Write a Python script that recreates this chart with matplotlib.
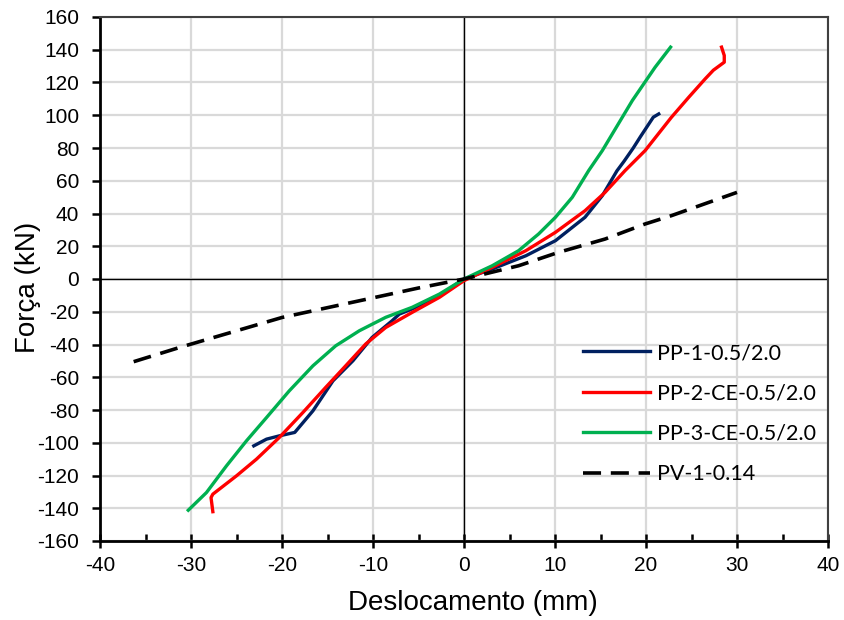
import matplotlib
matplotlib.use("Agg")
import matplotlib.pyplot as plt
from matplotlib.ticker import MultipleLocator

plt.rcParams["axes.unicode_minus"] = False

# ---- data ----
pp1_x = [-23.1, -21.7, -20.3, -18.6, -16.6, -14.4, -12.2, -10.1, -7.9, -7.1, -5.7, -2.7, 0.0,
         3.1, 6.8, 10.05, 13.3, 15.2, 16.8, 17.6, 18.6, 19.4, 20.8, 21.4]
pp1_y = [-101.9, -97.8, -95.8, -93.7, -80.5, -62.2, -49.9, -35.7, -25.5, -21.4, -18.3, -10.2, 0.0,
         6.1, 14.2, 23.4, 37.7, 50.9, 66.0, 72.0, 80.0, 87.0, 98.8, 100.8]

pp2_x = [-27.6, -27.8, -27.6, -25.0, -22.8, -20.3, -17.7, -15.2, -13.0, -10.8, -8.6, -5.7, -2.7, 0.0,
         3.1, 6.8, 10.05, 13.3, 15.5, 17.7, 19.9, 22.8, 24.7, 26.5, 27.4, 28.6, 28.6, 28.3]
pp2_y = [-142.1, -133.5, -131.4, -120.2, -110.0, -96.8, -81.5, -66.2, -53.0, -39.7, -29.6, -20.4, -11.2, -1.0,
         7.1, 17.3, 28.5, 41.7, 52.9, 66.2, 78.4, 98.8, 111.0, 122.2, 127.5, 132.4, 136.5, 141.6]

pp3_x = [-30.3, -28.3, -26.1, -23.9, -21.7, -19.2, -16.6, -14.1, -11.5, -8.6, -5.7, -2.7, 0.0,
         3.1, 6.0, 8.2, 10.05, 11.9, 13.7, 15.2, 17.4, 18.5, 21.0, 22.7]
pp3_y = [-141.2, -130.4, -114.1, -98.8, -84.6, -68.3, -53.0, -40.8, -31.6, -23.4, -17.3, -9.2, 0.0,
         8.1, 17.3, 27.5, 37.7, 49.9, 66.2, 78.4, 98.8, 109.0, 129.3, 141.6]

pv1_x = [-36.3, -31.25, -20.0, -10.0, -5.0, 0.0, 6.0, 10.4, 15.5, 19.9, 22.8, 26.9, 30.0]
pv1_y = [-50.5, -41.8, -23.5, -11.5, -5.5, 0.0, 8.1, 16.3, 24.4, 33.6, 38.7, 46.8, 52.9]

labels = ["PP-1-0.5/2.0", "PP-2-CE-0.5/2.0", "PP-3-CE-0.5/2.0", "PV-1-0.14"]
x_ticks = list(range(-40, 41, 10))
y_ticks = list(range(-160, 161, 20))

main_font = "Liberation Sans"
legend_font = "Lato"

fig = plt.figure(figsize=(8.44, 6.2), dpi=100)
ax = fig.add_axes([100 / 844, 1 - 541 / 620, 728 / 844, 524 / 620])

ax.set_xlim(-40, 40)
ax.set_ylim(-160, 160)
ax.set_xticks(x_ticks)
ax.set_yticks(y_ticks)
ax.xaxis.set_minor_locator(MultipleLocator(5))

ax.grid(True, which="major", color="#d9d9d9", linewidth=1.6, zorder=0)
ax.set_axisbelow(True)

ax.axhline(0, color="black", linewidth=1.0, zorder=1)
ax.axvline(0, color="black", linewidth=1.0, zorder=1)

ax.plot(pp1_x, pp1_y, color="#002060", linewidth=2.4, label=labels[0], zorder=3)
ax.plot(pp2_x, pp2_y, color="#ff0000", linewidth=2.4, label=labels[1], zorder=3)
ax.plot(pp3_x, pp3_y, color="#00b050", linewidth=2.4, label=labels[2], zorder=3)
ax.plot(pv1_x, pv1_y, color="black", linewidth=2.6, linestyle=(0, (5, 2.7)),
        label=labels[3], zorder=3)

for side in ["left", "bottom"]:
    ax.spines[side].set_color("black")
    ax.spines[side].set_linewidth(2.0)
for side in ["top", "right"]:
    ax.spines[side].set_color("#404040")
    ax.spines[side].set_linewidth(1.5)

ax.tick_params(axis="x", which="major", direction="inout", length=10, width=1.8,
               labelsize=15, pad=6, top=False)
ax.tick_params(axis="x", which="minor", direction="in", length=5, width=1.8, top=False)
ax.tick_params(axis="y", which="major", direction="out", length=6, width=1.8,
               labelsize=15, pad=9, right=False)
for lab in ax.get_xticklabels() + ax.get_yticklabels():
    lab.set_fontfamily(main_font)

ax.set_xlabel("Deslocamento (mm)", fontsize=20, fontfamily=main_font, va="center")
ax.set_ylabel("Força (kN)", fontsize=20, fontfamily=main_font, va="center")
ax.xaxis.set_label_coords((473 - 100) / 728, (541 - 603) / 524)
ax.yaxis.set_label_coords((28 - 100) / 728, (541 - 287) / 524)

leg = ax.legend(loc="upper left", bbox_to_anchor=(583 / 844, 1 - 343 / 620),
                bbox_transform=fig.transFigure, frameon=False, borderpad=0,
                borderaxespad=0, prop={"family": legend_font, "size": 15.5},
                handlelength=3.1, labelspacing=0.95, handletextpad=0.35)

fig.savefig("out.png", dpi=100)
